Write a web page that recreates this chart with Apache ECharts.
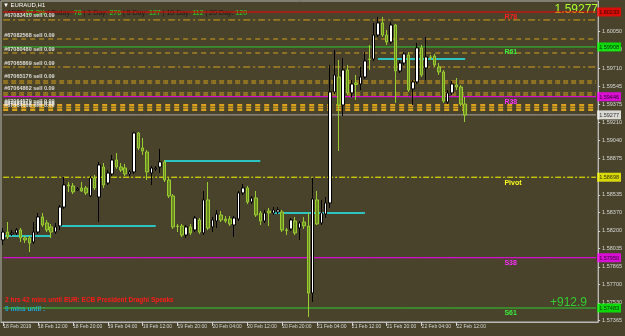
<!DOCTYPE html>
<html><head><meta charset="utf-8">
<script src="https://cdn.jsdelivr.net/npm/echarts@6/dist/echarts.min.js"></script>
<style>html,body{margin:0;padding:0;background:#48432a;}#c{width:625px;height:336px;}</style>
</head><body><div id="c"></div>
<script>
// ---- data ----
const candles = [ // [open, close, low, high]
[1.58115,1.58189,1.58068,1.58226],[1.58189,1.58143,1.58124,1.58282],[1.58171,1.58180,1.58152,1.58208],[1.58180,1.58208,1.58161,1.58226],
[1.58208,1.58134,1.58096,1.58226],[1.58134,1.58115,1.58087,1.58152],[1.58134,1.58087,1.58003,1.58152],[1.58096,1.58189,1.58078,1.58282],
[1.58189,1.58329,1.58171,1.58366],[1.58329,1.58254,1.58236,1.58366],[1.58273,1.58208,1.58189,1.58301],[1.58236,1.58189,1.58134,1.58264],
[1.58189,1.58236,1.58171,1.58273],[1.58245,1.58421,1.58208,1.58440],[1.58421,1.58626,1.58403,1.58700],[1.58626,1.58617,1.58561,1.58654],
[1.58617,1.58561,1.58542,1.58644],[1.58579,1.58589,1.58570,1.58607],[1.58598,1.58570,1.58561,1.58654],[1.58598,1.58552,1.58533,1.58617],
[1.58524,1.58691,1.58514,1.58709],[1.58691,1.58598,1.58579,1.58719],[1.58514,1.58812,1.58282,1.58840],[1.58793,1.58626,1.58598,1.58830],
[1.58644,1.58737,1.58626,1.58765],[1.58728,1.58858,1.58709,1.58905],[1.58858,1.58793,1.58775,1.58923],[1.58793,1.58765,1.58747,1.58830],
[1.58784,1.58728,1.58709,1.58821],[1.58728,1.58747,1.58709,1.58765],[1.58747,1.59109,1.58728,1.59118],[1.59109,1.58970,1.58951,1.59118],
[1.58970,1.58942,1.58905,1.59062],[1.58932,1.58747,1.58672,1.58951],[1.58737,1.58784,1.58626,1.58802],[1.58775,1.58784,1.58756,1.58802],
[1.58793,1.58840,1.58737,1.58960],[1.58840,1.58672,1.58654,1.58858],[1.58672,1.58524,1.58505,1.58691],[1.58524,1.58236,1.58217,1.58542],
[1.58245,1.58240,1.58189,1.58264],[1.58245,1.58161,1.58143,1.58264],[1.58161,1.58236,1.58134,1.58254],[1.58236,1.58180,1.58161,1.58264],
[1.58208,1.58319,1.58189,1.58338],[1.58301,1.58189,1.58171,1.58319],[1.58180,1.58487,1.58161,1.58570],[1.58487,1.58226,1.58208,1.58654],
[1.58236,1.58301,1.58189,1.58329],[1.58291,1.58356,1.58226,1.58394],[1.58347,1.58301,1.58282,1.58384],[1.58310,1.58291,1.58273,1.58338],
[1.58310,1.58264,1.58245,1.58338],[1.58254,1.58319,1.58143,1.58338],[1.58310,1.58552,1.58291,1.58570],[1.58552,1.58598,1.58533,1.58635],
[1.58598,1.58468,1.58449,1.58617],[1.58468,1.58505,1.58449,1.58524],[1.58505,1.58347,1.58329,1.58570],[1.58366,1.58291,1.58254,1.58384],
[1.58291,1.58366,1.58273,1.58394],[1.58384,1.58366,1.58245,1.58412],[1.58366,1.58394,1.58347,1.58421],[1.58375,1.58394,1.58356,1.58421],
[1.58375,1.58208,1.58189,1.58394],[1.58208,1.58203,1.58161,1.58226],[1.58217,1.58301,1.58199,1.58319],[1.58291,1.58180,1.58161,1.58329],
[1.58226,1.58273,1.58115,1.58291],[1.58282,1.58245,1.58217,1.58329],[1.58245,1.57622,1.57400,1.58366],[1.57622,1.58496,1.57539,1.58691],
[1.58487,1.58264,1.58254,1.58570],[1.58273,1.58366,1.58254,1.58487],[1.58356,1.58459,1.58319,1.58514],[1.58459,1.59490,1.58412,1.59741],
[1.59490,1.59648,1.59471,1.59880],[1.59629,1.59369,1.58942,1.59787],[1.59369,1.59694,1.59267,1.59806],[1.59694,1.59481,1.59462,1.59741],
[1.59481,1.59564,1.59443,1.59601],[1.59573,1.59559,1.59416,1.59648],[1.59564,1.59629,1.59508,1.59722],[1.59629,1.59778,1.59611,1.59861],
[1.59796,1.59792,1.59694,1.59926],[1.59796,1.60019,1.59778,1.60131],[1.60019,1.60131,1.60001,1.60187],[1.60131,1.60019,1.60001,1.60187],
[1.60019,1.59954,1.59926,1.60066],[1.59954,1.60112,1.59936,1.60140],[1.60112,1.59685,1.59388,1.60122],[1.59685,1.59759,1.59666,1.59787],
[1.59759,1.59843,1.59741,1.59861],[1.59834,1.59508,1.59490,1.59861],[1.59518,1.59583,1.59369,1.59601],[1.59583,1.59899,1.59564,1.59945],
[1.59899,1.59648,1.59629,1.59926],[1.59713,1.59815,1.59601,1.60001],[1.59815,1.59810,1.59787,1.59834],[1.59824,1.59741,1.59722,1.59843],
[1.59722,1.59676,1.59648,1.59759],[1.59676,1.59406,1.59388,1.59694],[1.59397,1.59481,1.59378,1.59508],[1.59481,1.59564,1.59462,1.59592],
[1.59555,1.59536,1.59508,1.59620],[1.59536,1.59378,1.59360,1.59555],[1.59378,1.59277,1.59211,1.59443]
];
const totalSlots = 137;
const xTickLabels = ['18 Feb 2019','18 Feb 12:00','18 Feb 20:00','19 Feb 04:00','19 Feb 12:00','19 Feb 20:00','20 Feb 04:00','20 Feb 12:00','20 Feb 20:00','21 Feb 04:00','21 Feb 12:00','21 Feb 20:00','22 Feb 04:00','22 Feb 12:00'];
const yTickValues = [1.60050,1.59880,1.59710,1.59545,1.59375,1.59210,1.59040,1.58875,1.58535,1.58370,1.58200,1.58035,1.57865,1.57700,1.57530,1.57365];
const levelNames = ['R78','R61','R38','Pivot','S38','S61'];
const levelValues = [1.60233,1.59908,1.59446,1.58698,1.57950,1.57483];
const currentPrice = 1.59277;
const orderPrices = [1.60159,1.59982,1.59852,1.59722,1.59592,1.59573,1.59481,1.59462,1.59369,1.59346,1.59323];
const orderLabels = ['#67083410 sell 0.09','#67082568 sell 0.09','#67080480 sell 0.09','#67065869 sell 0.09','#67065176 sell 0.09','','#67064862 sell 0.09','','#67064570 sell 0.09','#67064312 sell 0.09','#67064108 sell 0.09'];
const cyanSegments = [[0,11,1.58152],[13,35,1.58245],[37,59,1.58849],[62,83,1.58366],[86,106,1.59796]]; // [fromBar, toBar, price]
const adrStats = [['ADR: ','67.2%'],[' | Today: ','78'],[' | 1 Day: ','276'],[' | 5 Day: ','127'],[' | 10 Day: ','112'],[' | 20 Day: ','120']];
const profitText = '+912.9';
const newsLines = ['2 hrs 42 mins until EUR: ECB President Draghi Speaks','0 mins until :'];
const symbolTitle = '\u25BC EURAUD,H1';

// ---- build ----
const BG = '#48432a';
const FONT = 'Liberation Sans';
const categories = [];
const t0 = Date.UTC(2019,1,18,4);
for (let i=0;i<totalSlots;i++){ const d=new Date(t0+i*3600e3); categories.push(d.toISOString().slice(0,13)); }

const levelColors = ['#ff0000','#32cd32','#ff00ff','#ffff00','#ff00ff','#32cd32'];
const levelTextColors = ['#ff2020','#3cf03c','#ff30ff','#ffff20','#ff30ff','#3cf03c'];
const levelBoxColors = ['#ff0000','#00ff00','#ff00ff','#ffff00','#ff00ff','#00ff00'];
const orderDash = [[7,3,2,3],[5,4],[5,4],[7,3,2,3],[5,3],[5,3],[5,3],[5,3],[5,4],[5,4],[5,4]];
const orderWidth = [1,1,1,1,1,1,1,1,2,2,2];

function hLine(value, color, width, dash){
  return {type:'line', data:new Array(totalSlots).fill(value), symbol:'none', silent:true, z:1,
    lineStyle:{color:color, width:width, type:dash}};
}
const series = [];
orderPrices.forEach((p,i)=>{ series.push(hLine(p, '#d8a21e', orderWidth[i], orderDash[i])); });
levelValues.forEach((v,i)=>{
  series.push(hLine(v, levelColors[i], 1, levelNames[i]==='Pivot'?[6,2,2,2]:'solid'));
});
series.push(hLine(currentPrice, '#a8a8a8', 1, 'solid'));

// order text labels (scatter at the first bar)
const orderLabelData = [];
orderPrices.forEach((p,i)=>{ if (orderLabels[i]) orderLabelData.push({value:[0,p], name:orderLabels[i]}); });
series.push({type:'scatter', data:orderLabelData, symbolSize:0, silent:true, z:5,
  label:{show:true, position:[1,-7], formatter:(p)=>p.name, color:'#ffffff', fontSize:5.5, fontWeight:'bold', fontFamily:FONT}});

// right-side price boxes via scatter at last slot
const boxValues = levelValues.concat([currentPrice]);
const boxColors = levelBoxColors.concat(['#ffffff']);
series.push({type:'scatter', data:boxValues.map((v,i)=>({value:[totalSlots-1,v], label:{backgroundColor:boxColors[i]}})),
  symbolSize:0, silent:true, z:6,
  label:{show:true, position:[1.2,-4.5], formatter:(p)=>p.value[1].toFixed(5), color:'#000', fontSize:5.5, fontFamily:FONT, padding:[2,2,1,2]}});

const cyanData = new Array(totalSlots).fill(null);
cyanSegments.forEach(([a,b,p])=>{ for(let i=a;i<=b;i++) cyanData[i]=p; });
series.push({type:'line', data:cyanData, z:2, symbol:'none', connectNulls:false, lineStyle:{color:'#2bc4c0', width:2}, silent:true});

series.push({type:'candlestick', data:candles, z:3, barWidth:3,
  itemStyle:{color:'#ffffff', borderColor:'#000000', color0:'#6b8a22', borderColor0:'#9acd32', borderWidth:1}});

const labelBar = 115;
series.push({type:'scatter', data:levelValues.map((v,i)=>({value:[labelBar,v], name:levelNames[i], label:{color:levelTextColors[i]}})),
  z:4, symbolSize:0, silent:true,
  label:{show:true, position:[0,2], formatter:(p)=>p.name, fontSize:7, fontWeight:'bold', fontFamily:FONT, opacity:1}});

let rich = '';
adrStats.forEach(([a,b])=>{ rich += '{a|'+a+'}{b|'+b+'}'; });

const chart = echarts.init(document.getElementById('c'));
chart.setOption({
  animation:false,
  backgroundColor:BG,
  grid:{left:1, right:26, top:1, bottom:14, show:true, borderColor:'#b8b8b8', borderWidth:1, backgroundColor:BG},
  xAxis:{type:'category', data:categories, boundaryGap:true,
    axisLine:{show:true, lineStyle:{color:'#b8b8b8'}},
    axisTick:{show:true, alignWithLabel:true, length:4, lineStyle:{color:'#d0d0d0'}, interval:(i)=>i%8===0 && i/8<xTickLabels.length},
    axisLabel:{show:true, interval:(i)=>i%8===0 && i/8<xTickLabels.length, formatter:(v,i)=>xTickLabels[i/8]||'', align:'left', margin:2, color:'#d8d8d8', fontSize:5, fontFamily:FONT},
    splitLine:{show:false}},
  yAxis:{type:'value', position:'right', min:1.57353, max:1.60335,
    axisLine:{show:true, lineStyle:{color:'#b8b8b8'}},
    axisTick:{show:true, length:2, customValues:yTickValues, lineStyle:{color:'#d0d0d0'}},
    axisLabel:{show:true, customValues:yTickValues, formatter:(v)=>v.toFixed(5), margin:4, color:'#d8d8d8', fontSize:5.5, fontFamily:FONT},
    splitLine:{show:false}},
  series:series,
  graphic:[
    {type:'text', left:3, top:2, style:{text:symbolTitle, fill:'#ffffff', font:'6px '+FONT}},
    {type:'text', left:7, top:10, style:{text:rich, rich:{a:{fill:'#1a1a1a', font:'7px '+FONT}, b:{fill:'#22dd22', font:'7px '+FONT}}}},
    {type:'text', right:27, top:4, style:{text:currentPrice.toFixed(5), fill:'#adff2f', font:'12px '+FONT}},
    {type:'text', right:38, top:297, style:{text:profitText, fill:'#32cd32', font:'12px '+FONT}},
    {type:'text', left:5, top:297, style:{text:newsLines[0], fill:'#ff1a1a', font:'bold 6.5px '+FONT}},
    {type:'text', left:5, top:306, style:{text:newsLines[1], fill:'#1aa8f0', font:'bold 6.5px '+FONT}}
  ]
});
</script></body></html>
